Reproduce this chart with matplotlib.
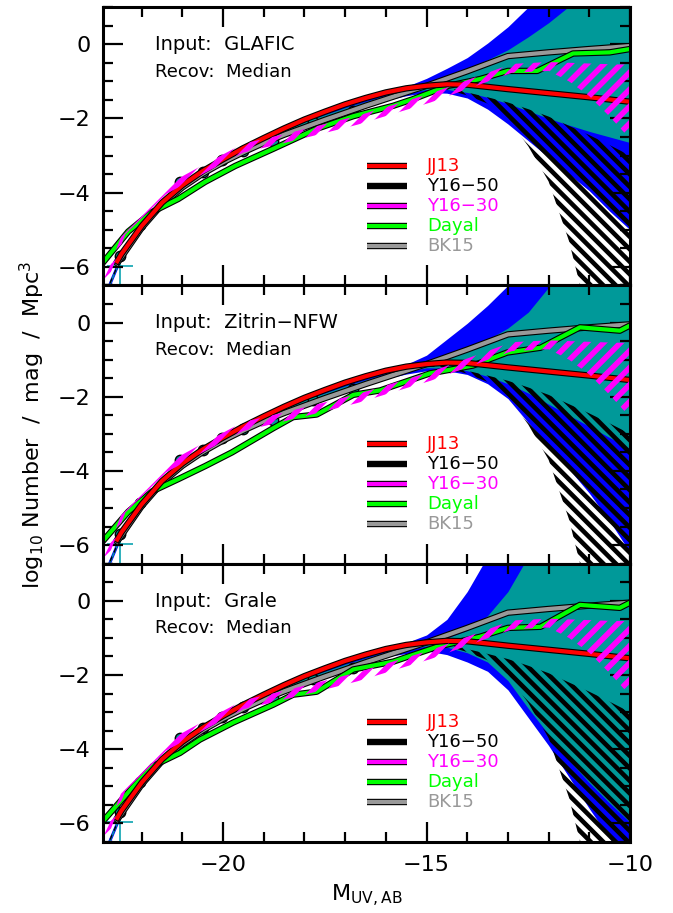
import numpy as np
import matplotlib
matplotlib.use("Agg")
import matplotlib.pyplot as plt
import matplotlib.patheffects as pe
from matplotlib.patches import Polygon
from matplotlib.collections import LineCollection
from matplotlib.ticker import MultipleLocator

plt.rcParams['font.family'] = ['DejaVu Sans']

# ---------------- data ----------------
panel_names = ["GLAFIC", "Zitrin\u2212NFW", "Grale"]

band_x = [-23, -22.5, -22, -21.5, -21, -20.5, -20, -19, -18, -17, -16, -15.5, -15,
          -14.5, -14, -13.5, -13, -12.5, -12, -11.5, -11, -10.5, -10]

# recovered 95% (blue) and 68% (teal) envelopes, one set per panel
blue_hi = [
    [-6.9, -5.6, -4.8, -4.2, -3.73, -3.36, -3.06, -2.51, -2.05, -1.67, -1.34, -1.14, -0.92,
     -0.65, -0.36, 0.03, 0.47, 1.0, 1.6, 2.2, 2.8, 3.4, 4.0],
    [-6.9, -5.6, -4.8, -4.2, -3.73, -3.36, -3.06, -2.51, -2.05, -1.67, -1.34, -1.13, -0.88,
     -0.45, -0.02, 0.46, 1.0, 1.6, 2.2, 2.8, 3.4, 4.0, 4.6],
    [-6.9, -5.6, -4.8, -4.2, -3.73, -3.36, -3.06, -2.51, -2.05, -1.67, -1.34, -1.13, -0.92,
     -0.5, 0.25, 1.2, 2.2, 3.0, 3.8, 4.6, 5.4, 6.2, 7.0],
]
teal_hi = [
    [-6.95, -5.65, -4.84, -4.24, -3.77, -3.4, -3.1, -2.55, -2.09, -1.71, -1.38, -1.22, -1.06,
     -0.86, -0.65, -0.42, -0.15, 0.2, 0.58, 1.02, 1.5, 2.0, 2.5],
    [-6.95, -5.65, -4.84, -4.24, -3.77, -3.4, -3.1, -2.55, -2.09, -1.71, -1.38, -1.22, -1.08,
     -0.93, -0.72, -0.46, -0.15, 0.28, 0.95, 1.6, 2.2, 2.8, 3.4],
    [-6.95, -5.65, -4.84, -4.24, -3.77, -3.4, -3.1, -2.55, -2.09, -1.71, -1.38, -1.22, -1.1,
     -1.0, -0.8, -0.4, 0.25, 1.2, 2.0, 2.8, 3.6, 4.4, 5.2],
]
teal_lo = [
    [-7.05, -5.75, -4.9, -4.3, -3.83, -3.46, -3.16, -2.62, -2.16, -1.78, -1.46, -1.32, -1.22,
     -1.22, -1.3, -1.43, -1.6, -1.8, -2.0, -2.18, -2.35, -2.5, -2.65],
    [-7.05, -5.75, -4.9, -4.3, -3.83, -3.46, -3.16, -2.62, -2.16, -1.78, -1.46, -1.32, -1.22,
     -1.23, -1.3, -1.45, -1.65, -1.9, -2.2, -2.5, -2.8, -3.1, -3.4],
    [-7.05, -5.75, -4.9, -4.3, -3.83, -3.46, -3.16, -2.62, -2.16, -1.78, -1.46, -1.32, -1.22,
     -1.25, -1.4, -1.65, -2.15, -2.9, -3.6, -4.3, -4.9, -5.45, -5.97],
]
blue_lo = [
    [-7.1, -5.8, -4.94, -4.34, -3.87, -3.5, -3.2, -2.66, -2.2, -1.82, -1.51, -1.39, -1.3,
     -1.32, -1.45, -1.75, -2.15, -2.6, -3.05, -3.5, -3.95, -4.5, -5.0],
    [-7.1, -5.8, -4.94, -4.34, -3.87, -3.5, -3.2, -2.66, -2.2, -1.82, -1.51, -1.39, -1.3,
     -1.3, -1.4, -1.65, -2.05, -2.7, -3.3, -3.95, -4.6, -5.35, -6.2],
    [-7.1, -5.8, -4.94, -4.34, -3.87, -3.5, -3.2, -2.66, -2.2, -1.82, -1.51, -1.42, -1.35,
     -1.45, -1.65, -1.9, -2.4, -3.15, -3.9, -4.75, -5.6, -6.4, -7.2],
]

# Y16-50 band (black hatch) and Y16-30 band (magenta hatch)
y50_x = [-23, -22.5, -22, -21, -20, -19, -18, -17, -16, -15, -14.5, -14, -13.5, -13,
         -12.5, -12, -11.5, -11, -10.5, -10]
y50_hi = [-6.95, -5.7, -4.86, -3.77, -3.08, -2.49, -2.0, -1.6, -1.28, -1.1, -1.16, -1.3,
          -1.43, -1.57, -1.75, -1.95, -2.2, -2.45, -2.72, -3.0]
y50_lo = [-7.05, -5.78, -4.94, -3.85, -3.16, -2.57, -2.08, -1.68, -1.36, -1.18, -1.22, -1.38,
          -1.6, -2.0, -2.75, -3.7, -5.3, -7.5, -10, -12]

y30_x = [-23, -22.8, -22.4, -21.4, -20.5, -19.5, -18.6, -17.6, -16.7, -15.8, -14.9, -13.9,
         -12.9, -12, -11.5, -11, -10.5, -10]
y30_hi = [-6.48, -6.03, -4.88, -3.8, -3.26, -2.68, -2.45, -2.18, -1.93, -1.63, -1.33, -0.93,
          -0.53, -0.48, -0.5, -0.52, -0.54, -0.55]
y30_lo = [-6.72, -6.27, -5.12, -4.04, -3.5, -2.92, -2.69, -2.42, -2.17, -1.87, -1.57, -1.17,
          -0.77, -0.72, -1.0, -1.4, -1.95, -2.55]

# model lines
jj13_x = [-22.6, -22.5, -22, -21.5, -21, -20.5, -20, -19.5, -19, -18.5, -18, -17.5, -17,
          -16.5, -16, -15.5, -15, -14.5, -14, -13.5, -13, -12, -11, -10]
jj13_y = [-5.85, -5.66, -4.9, -4.27, -3.8, -3.42, -3.1, -2.8, -2.53, -2.27, -2.03, -1.82,
          -1.62, -1.45, -1.3, -1.19, -1.12, -1.08, -1.09, -1.15, -1.21, -1.32, -1.43, -1.55]

bk15_x = [-22.6, -22, -21.5, -21, -20.5, -20, -19.5, -19, -18.5, -18, -17.5, -17, -16.5,
          -16, -15.5, -15, -14, -13, -12, -11, -10]
bk15_y = [-5.9, -4.95, -4.32, -3.86, -3.49, -3.18, -2.91, -2.66, -2.44, -2.24, -2.04, -1.85,
          -1.66, -1.48, -1.3, -1.12, -0.73, -0.32, -0.22, -0.13, -0.05]

dayal_x = [
    [-23, -22.33, -21.74, -21.1, -20.44, -19.7, -18.77, -17.7, -16.8, -15.82, -15.33, -14.5,
     -13.69, -13.0, -12.28, -11.4, -10.5, -10],
    [-23, -22.33, -21.74, -21.1, -20.44, -19.78, -18.77, -18.28, -17.7, -16.8, -16.14,
     -14.91, -13.86, -13.02, -12.2, -11.23, -10.25, -10],
    [-23, -22.2, -21.72, -21.06, -20.57, -19.75, -18.77, -18.28, -17.7, -16.8, -15.82,
     -14.74, -13.69, -13.0, -12.2, -11.23, -10.25, -10],
]
dayal_y = [
    [-5.95, -5.05, -4.52, -4.17, -3.71, -3.28, -2.82, -2.28, -1.94, -1.66, -1.48, -1.13,
     -0.94, -0.72, -0.72, -0.25, -0.22, -0.13],
    [-5.95, -5.1, -4.55, -4.22, -3.87, -3.5, -2.85, -2.55, -2.48, -1.95, -1.83, -1.37,
     -1.16, -0.81, -0.68, -0.13, -0.22, -0.08],
    [-6.0, -5.0, -4.45, -4.1, -3.74, -3.28, -2.8, -2.53, -2.45, -1.85, -1.64, -1.24,
     -0.97, -0.73, -0.7, -0.11, -0.19, -0.05],
]

# observed points
obs_x = [-22.53, -22.04, -21.06, -20.5, -20.02, -19.5, -18.77, -17.79, -16.8]
obs_y = [-5.7, -4.87, -3.7, -3.44, -3.12, -2.87, -2.62, -2.1, -1.8]
err_x = [-22.53, -22.04]
err_y = [-5.97, -4.87]
err_dx = [0.32, 0.13]
err_dy_lo = [1.0, 0.16]
err_dy_hi = [0.27, 0.16]

leg_labels = ["JJ13", "Y16\u221250", "Y16\u221230", "Dayal", "BK15"]
leg_colors = ["#ff0000", "#000000", "#ff00ff", "#00ff00", "#999999"]

xlim = (-22.95, -10)
ylim = (-6.5, 1.0)

W, H = 673, 913
fig = plt.figure(figsize=(W / 100, H / 100), dpi=100)

ax_left, ax_w = 103 / W, 527 / W
ax_h = 278.3 / H
ax_bottom = 1 - 842 / H

outline = [pe.Stroke(linewidth=4.6, foreground='k'), pe.Normal()]


def hatch(ax, x, lo, hi, color, step_px, forward, lw, z):
    x = np.asarray(x, float)
    verts = np.column_stack([np.r_[x, x[::-1]], np.r_[lo, np.asarray(hi)[::-1]]])
    poly = Polygon(verts, closed=True, facecolor='none', edgecolor='none')
    ax.add_patch(poly)
    sx = ax_w * W / (xlim[1] - xlim[0])
    sy = ax_h * H / (ylim[1] - ylim[0])
    slope = sx / sy
    yb, yt = ylim[0] - 1, ylim[1] + 1
    run = (yt - yb) / slope
    step = step_px / sx
    segs = []
    for c in np.arange(xlim[0] - run - step, xlim[1] + step, step):
        if forward:
            segs.append([(c, yb), (c + run, yt)])
        else:
            segs.append([(c, yt), (c + run, yb)])
    lc = LineCollection(segs, colors=color, linewidths=lw, zorder=z, capstyle='butt')
    lc.set_clip_path(poly)
    ax.add_collection(lc, autolim=False)
    lc.set_clip_box(ax.bbox)


for i in range(3):
    ax = fig.add_axes([ax_left, ax_bottom + (2 - i) * ax_h, ax_w, ax_h])
    ax.set_xlim(*xlim)
    ax.set_ylim(*ylim)

    ax.fill_between(band_x, blue_lo[i], blue_hi[i], color='#0000ff', lw=0, zorder=1)
    ax.fill_between(band_x, teal_lo[i], teal_hi[i], color='#009999', lw=0, zorder=1.1)

    ax.errorbar(err_x, err_y, xerr=err_dx, yerr=[err_dy_lo, err_dy_hi], fmt='none',
                ecolor='#0aa3b0', elinewidth=1.2, capsize=0, zorder=1.4)
    ax.plot(obs_x, obs_y, 'o', ms=7.5, mfc='#009999', mec='k', mew=1, zorder=1.5)

    hatch(ax, y50_x, y50_lo, y50_hi, 'k', 12.5, False, 3.3, 2)

    ax.plot(bk15_x, bk15_y, color='#999999', lw=3.0, path_effects=outline, zorder=3)
    ax.plot(dayal_x[i], dayal_y[i], color='#00ff00', lw=3.0, path_effects=outline, zorder=3.1)
    ax.plot(jj13_x, jj13_y, color='#ff0000', lw=3.0, path_effects=outline, zorder=3.2)

    hatch(ax, y30_x, y30_lo, y30_hi, '#ff00ff', 17, True, 4.0, 3.5)

    # legend
    for k, (lab, col) in enumerate(zip(leg_labels, leg_colors)):
        yy = 0.430 - k * 0.0717
        if lab.startswith("Y16\u22125"):
            ax.plot([0.501, 0.577], [yy, yy], color='k', lw=4.6, transform=ax.transAxes,
                    solid_capstyle='butt', zorder=5)
        else:
            ax.plot([0.501, 0.577], [yy, yy], color=col, lw=3.0, transform=ax.transAxes,
                    solid_capstyle='butt', zorder=5,
                    path_effects=[pe.Stroke(linewidth=4.6, foreground='k'), pe.Normal()])
        ax.text(0.615, yy, lab, color=col, fontsize=13, transform=ax.transAxes,
                ha='left', va='center', zorder=5)

    ax.text(0.098, 0.865, "Input:  " + panel_names[i], fontsize=14, transform=ax.transAxes,
            ha='left', va='center', zorder=5)
    ax.text(0.098, 0.768, "Recov:  Median", fontsize=13, transform=ax.transAxes,
            ha='left', va='center', zorder=5)

    ax.set_xticks([-20, -15, -10])
    ax.xaxis.set_minor_locator(MultipleLocator(1))
    ax.set_yticks([-6, -4, -2, 0])
    ax.yaxis.set_minor_locator(MultipleLocator(0.5))
    ax.tick_params(which='both', direction='in', top=True, right=True, width=1.6,
                   labelsize=16)
    ax.tick_params(which='major', length=14.5, pad=9)
    ax.tick_params(which='minor', length=7.5)
    for s in ax.spines.values():
        s.set_linewidth(2.2)
        s.set_zorder(6)
    if i < 2:
        ax.tick_params(labelbottom=False)
    else:
        ax.set_xlabel(r"M$_{\rm UV,AB}$", fontsize=16, labelpad=6)
    if i == 1:
        ax.set_ylabel(r"log$_{10}$ Number  /  mag  /  Mpc$^3$", fontsize=16, labelpad=8)

fig.savefig("out.png", dpi=100)
